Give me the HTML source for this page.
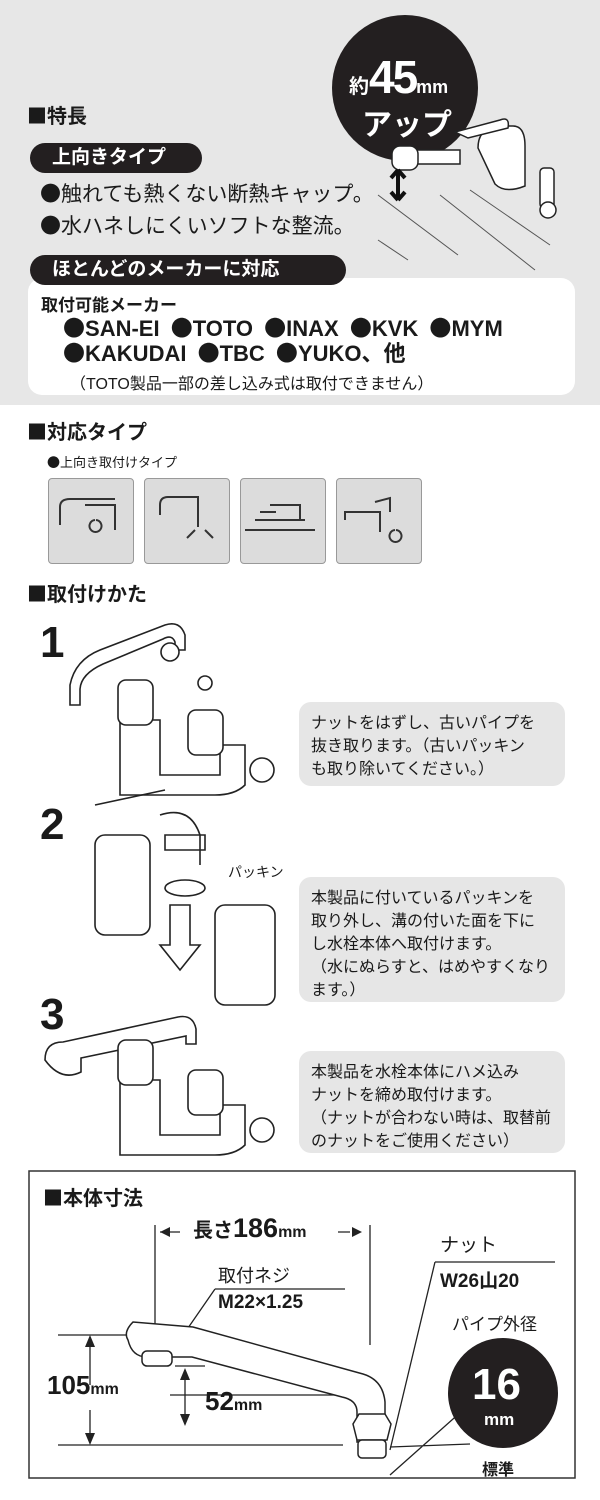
<!DOCTYPE html>
<html><head><meta charset="utf-8">
<style>
*{margin:0;padding:0;box-sizing:border-box}
body{width:600px;height:1500px;background:#fff;position:relative;overflow:hidden;font-family:"Liberation Sans","Noto Sans CJK JP",sans-serif;color:#1a1a1a}
.a{position:absolute;white-space:nowrap}
.h{font-weight:bold;font-size:20px}
.b{font-family:"Noto Sans CJK JP",sans-serif}
.pill{position:absolute;background:#231f20;color:#fff;border-radius:16px;font-weight:bold;font-size:19px;line-height:30px;padding-left:22px}
.tb{position:absolute;background:#e6e6e6;border-radius:12px;font-size:16px;line-height:23px;padding:10px 0 0 12px}
.sq{position:absolute;width:86px;height:86px;background:#dcdcdc;border:1px solid #999;border-radius:4px}
</style></head><body>
<div class="a" style="left:0;top:0;width:600px;height:405px;background:#e7e7e7"></div>

<svg class="a" style="left:0;top:0" width="600" height="1500">
 <circle cx="405" cy="88" r="73" fill="#231f20"/>
 <g fill="#fff" stroke="#222" stroke-width="1.5">
  <path d="M400 150 h60 v14 h-60z"/>
  <rect x="392" y="146" width="26" height="24" rx="8"/>
  <path d="M478 148 q0 -20 20 -22 h15 q12 0 12 20 v40 q-20 8 -30 -2z"/>
  <path d="M455 132 l45 -12 q10 -4 8 8 l-40 10z"/>
  <rect x="540" y="168" width="14" height="40" rx="4"/>
  <circle cx="548" cy="210" r="8"/>
 </g>
 <path d="M378 195 l80 60 M378 240 l30 20 M440 195 l95 75 M470 190 l80 55" stroke="#555" stroke-width="1"/>
 <path d="M398 170 v30 M398 170 l-7 8 M398 170 l7 8 M398 200 l-7 -8 M398 200 l7 -8" stroke="#111" stroke-width="4"/>
 <g fill="none" stroke="#333" stroke-width="2">
  <path d="M60 525 v-18 q0 -8 10 -8 h45 M85 505 h30 v25 M95 520 a6 6 0 1 0 1 0"/>
  <path d="M160 515 v-10 q0 -8 8 -8 h30 v30 M195 530 l-8 8 M205 530 l8 8"/>
  <path d="M245 530 h70 M255 520 h50 M270 505 h30 v15 M260 512 h16"/>
  <path d="M345 520 v-8 h35 v20 M375 502 l15 -4 v14 M395 530 a6 6 0 1 0 1 0"/>
 </g>
 <g fill="#fff" stroke="#222" stroke-width="1.6">
  <path d="M70 705 v-20 q5 -25 30 -35 l65 -25 q15 -5 20 10 v15 h-10 v-8 q-3 -8 -12 -3 l-60 25 q-22 10 -23 25 v16z"/>
  <path d="M120 720 h40 v55 h60 v-30 h25 v40 q-10 10 -30 10 h-95z"/>
  <rect x="118" y="680" width="35" height="45" rx="8"/><rect x="188" y="710" width="35" height="45" rx="8"/>
  <circle cx="205" cy="683" r="7"/><circle cx="170" cy="652" r="9"/>
  <circle cx="262" cy="770" r="12"/>
  <path d="M95 805 l70 -15 M160 815 q30 -10 40 20 v30 M165 835 h40 v15 h-40z"/>
  <rect x="95" y="835" width="55" height="100" rx="10"/><rect x="215" y="905" width="60" height="100" rx="10"/>
  <ellipse cx="185" cy="888" rx="20" ry="8"/>
  <path d="M170 905 l0 40 -10 0 20 25 20 -25 -10 0 0 -40z"/>
  <path d="M45 1060 q0 -18 18 -18 l115 -25 q15 -3 18 12 v15 h-10 v-8 l-105 22 v14 q-20 10 -36 -12z"/>
  <path d="M120 1080 h40 v55 h60 v-30 h25 v40 q-10 10 -30 10 h-95z"/>
  <rect x="118" y="1040" width="35" height="45" rx="8"/><rect x="188" y="1070" width="35" height="45" rx="8"/>
  <circle cx="262" cy="1130" r="12"/>
 </g>
 <rect x="29" y="1171" width="546" height="307" fill="none" stroke="#333" stroke-width="1.5"/>
 <g stroke="#222" stroke-width="1.3" fill="none">
  <path d="M155 1225 v115 M370 1225 v120"/>
  <path d="M160 1232 h20 M350 1232 h-12"/>
  <path d="M58 1335 h70 M58 1445 h285 M170 1395 h175 M175 1366 h30"/>
  <path d="M90 1340 v45 M90 1410 v32 M185 1372 v50"/>
  <path d="M215 1289 h130 M435 1262 h120 M215 1289 l-45 65 M435 1262 l-45 188 M480 1395 l-90 80 M390 1447 l80 -3"/>
 </g>
 <g fill="#222">
  <path d="M160 1232 l10 -5 v10z M362 1232 l-10 -5 v10z M90 1335 l-5 12 h10z M90 1445 l-5 -12 h10z M185 1368 l-5 12 h10z M185 1426 l-5 -12 h10z"/>
 </g>
 <g fill="#fff" stroke="#222" stroke-width="1.5">
  <path d="M128 1340 q-5 -8 5 -18 l60 5 l170 47 q20 6 22 28 v40 h-28 v-30 q0 -12 -15 -15 l-150 -40 h-45 q-15 0 -19 -17z"/>
  <rect x="142" y="1351" width="30" height="15" rx="5"/>
  <path d="M357 1440 l-4 -16 l6 -10 h26 l6 10 l-4 16z"/>
  <rect x="358" y="1440" width="28" height="18" rx="4"/>
 </g>
 <circle cx="503" cy="1393" r="55" fill="#231f20"/>
</svg>

<div class="a" style="top:50px;left:349px;color:#fff;font-weight:bold;font-size:20px">約<span style="font-size:46px;letter-spacing:-2px">45</span><span style="font-size:18px">mm</span></div>
<div class="a" style="left:362px;top:100px;color:#fff;font-weight:bold;font-size:30px">アップ</div>

<div class="a h" style="left:27px;top:100px"><span class="b">■</span>特長</div>
<div class="pill" style="left:30px;top:143px;width:172px">上向きタイプ</div>
<div class="a" style="left:40px;top:178px;font-size:21px"><span class="b">●</span>触れても熱くない断熱キャップ。</div>
<div class="a" style="left:40px;top:210px;font-size:21px"><span class="b">●</span>水ハネしにくいソフトな整流。</div>
<div class="pill" style="left:30px;top:255px;width:316px;z-index:2">ほとんどのメーカーに対応</div>
<div class="a" style="left:28px;top:278px;width:547px;height:117px;background:#fff;border-radius:14px"></div>
<div class="a" style="left:41px;top:291px;font-size:17px;font-weight:bold">取付可能メーカー</div>
<div class="a" style="left:63px;top:314px;font-size:22px;font-weight:bold;line-height:26px;word-spacing:5px"><span class="b">●</span>SAN-EI <span class="b">●</span>TOTO <span class="b">●</span>INAX <span class="b">●</span>KVK <span class="b">●</span>MYM</div>
<div class="a" style="left:63px;top:339px;font-size:22px;font-weight:bold;line-height:26px;word-spacing:5px"><span class="b">●</span>KAKUDAI <span class="b">●</span>TBC <span class="b">●</span>YUKO、他</div>
<div class="a" style="left:70px;top:370px;font-size:16px">（TOTO製品一部の差し込み式は取付できません）</div>

<div class="a h" style="left:27px;top:416px"><span class="b">■</span>対応タイプ</div>
<div class="a" style="left:47px;top:452px;font-size:13px"><span class="b">●</span>上向き取付けタイプ</div>
<div class="sq" style="left:48px;top:478px;z-index:-1"></div>
<div class="sq" style="left:144px;top:478px;z-index:-1"></div>
<div class="sq" style="left:240px;top:478px;z-index:-1"></div>
<div class="sq" style="left:336px;top:478px;z-index:-1"></div>
<div class="a h" style="left:27px;top:578px"><span class="b">■</span>取付けかた</div>

<div class="a" style="left:40px;top:618px;font-size:44px;font-weight:bold">1</div>
<div class="a" style="left:40px;top:800px;font-size:44px;font-weight:bold">2</div>
<div class="a" style="left:40px;top:990px;font-size:44px;font-weight:bold">3</div>
<div class="a" style="left:228px;top:862px;font-size:14px">パッキン</div>

<div class="tb" style="left:299px;top:702px;width:266px;height:84px">ナットをはずし、古いパイプを<br>抜き取ります。（古いパッキン<br>も取り除いてください。）</div>
<div class="tb" style="left:299px;top:877px;width:266px;height:125px">本製品に付いているパッキンを<br>取り外し、溝の付いた面を下に<br>し水栓本体へ取付けます。<br>（水にぬらすと、はめやすくなり<br>ます。）</div>
<div class="tb" style="left:299px;top:1051px;width:266px;height:102px">本製品を水栓本体にハメ込み<br>ナットを締め取付けます。<br>（ナットが合わない時は、取替前<br>のナットをご使用ください）</div>

<div class="a h" style="left:43px;top:1182px"><span class="b">■</span>本体寸法</div>
<div class="a" style="left:193px;top:1213px;font-size:20px;font-weight:bold">長さ<span style="font-size:27px">186</span><span style="font-size:16px">mm</span></div>
<div class="a" style="left:218px;top:1262px;font-size:18px">取付ネジ</div>
<div class="a" style="left:218px;top:1292px;font-size:19px;font-weight:bold">M22×1.25</div>
<div class="a" style="left:440px;top:1230px;font-size:19px">ナット</div>
<div class="a" style="left:440px;top:1266px;font-size:19px;font-weight:bold">W26山20</div>
<div class="a" style="left:452px;top:1310px;font-size:17px">パイプ外径</div>
<div class="a" style="left:47px;top:1370px;font-size:26px;font-weight:bold">105<span style="font-size:16px">mm</span></div>
<div class="a" style="left:205px;top:1386px;font-size:26px;font-weight:bold">52<span style="font-size:16px">mm</span></div>
<div class="a" style="left:472px;top:1360px;font-size:44px;font-weight:bold;color:#fff">16</div>
<div class="a" style="left:484px;top:1410px;font-size:17px;font-weight:bold;color:#fff">mm</div>
<div class="a" style="left:482px;top:1456px;font-size:16px;font-weight:bold">標準</div>
</body></html>
